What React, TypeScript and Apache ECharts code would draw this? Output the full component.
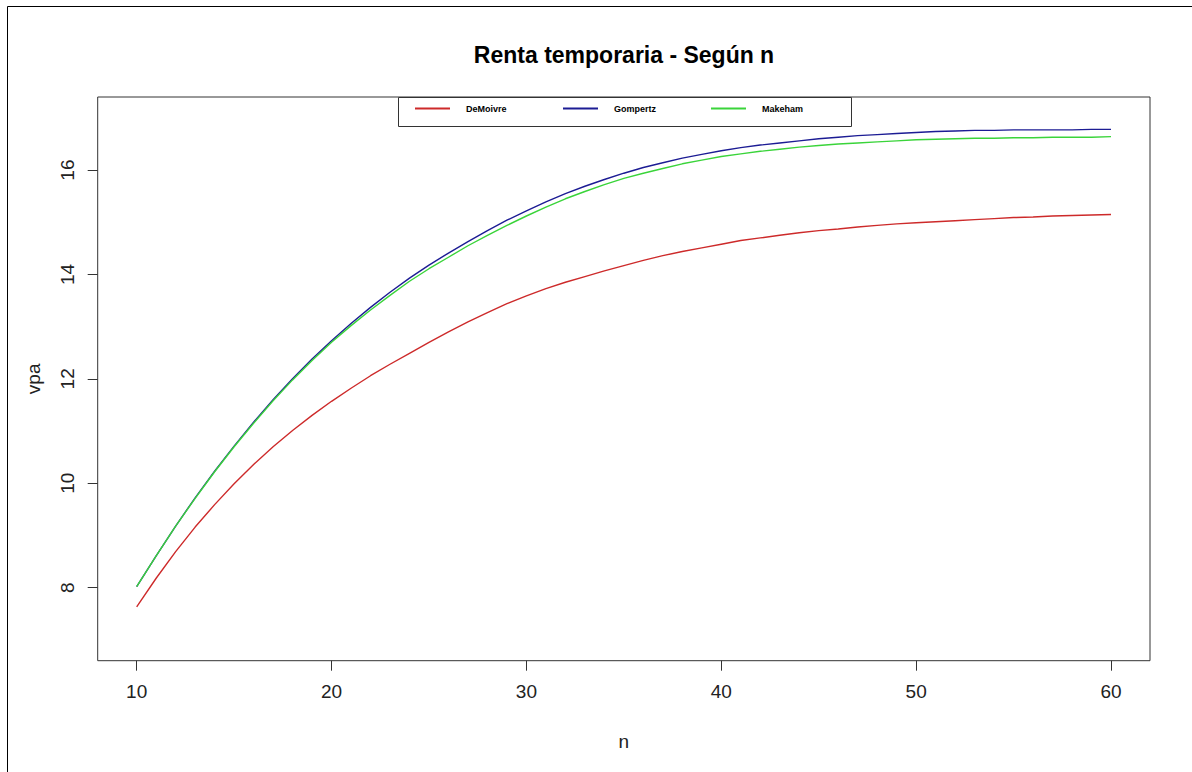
import React, { useEffect, useRef } from "react";
import * as echarts from "echarts";

const nValues = [
  10, 11, 12, 13, 14, 15, 16, 17, 18, 19, 20, 21, 22, 23, 24, 25, 26, 27, 28, 29, 30,
  31, 32, 33, 34, 35, 36, 37, 38, 39, 40, 41, 42, 43, 44, 45, 46, 47, 48, 49, 50,
  51, 52, 53, 54, 55, 56, 57, 58, 59, 60,
];

const deMoivre = [
  7.63, 8.18, 8.69, 9.16, 9.59, 9.99, 10.36, 10.7, 11.01, 11.3, 11.57, 11.82, 12.06,
  12.28, 12.49, 12.7, 12.9, 13.09, 13.27, 13.44, 13.59, 13.73, 13.85, 13.96, 14.07,
  14.17, 14.27, 14.36, 14.44, 14.51, 14.58, 14.65, 14.7, 14.75, 14.8, 14.84, 14.87,
  14.91, 14.94, 14.97, 14.99, 15.01, 15.03, 15.05, 15.07, 15.09, 15.1, 15.12, 15.13,
  15.14, 15.15,
];

const gompertz = [
  8.02, 8.61, 9.18, 9.72, 10.23, 10.71, 11.17, 11.6, 12.0, 12.38, 12.73, 13.06, 13.37,
  13.66, 13.93, 14.18, 14.41, 14.63, 14.84, 15.04, 15.22, 15.39, 15.55, 15.69, 15.82,
  15.94, 16.05, 16.14, 16.23, 16.3, 16.37, 16.43, 16.48, 16.52, 16.56, 16.6, 16.63,
  16.66, 16.68, 16.7, 16.72, 16.74, 16.75, 16.76, 16.76, 16.77, 16.77, 16.77, 16.77,
  16.78, 16.78,
];

const makeham = [
  8.02, 8.61, 9.18, 9.71, 10.22, 10.7, 11.15, 11.58, 11.98, 12.35, 12.7, 13.02, 13.32,
  13.6, 13.87, 14.11, 14.33, 14.55, 14.75, 14.94, 15.12, 15.29, 15.45, 15.59, 15.72,
  15.84, 15.94, 16.03, 16.12, 16.19, 16.26, 16.31, 16.36, 16.4, 16.44, 16.47, 16.5,
  16.52, 16.54, 16.56, 16.58, 16.59, 16.6, 16.61, 16.61, 16.62, 16.62, 16.63, 16.63,
  16.63, 16.64,
];

const seriesNames = ["DeMoivre", "Gompertz", "Makeham"];
const seriesColors = ["#cd2a2a", "#1c1c94", "#3ad43a"];
const xTicks = [10, 20, 30, 40, 50, 60];
const yTicks = [8, 10, 12, 14, 16];

const FONT = "'Liberation Sans', Arial, Helvetica, sans-serif";

export default function App() {
  const ref = useRef<HTMLDivElement>(null);

  useEffect(() => {
    if (!ref.current) return;
    const chart = echarts.init(ref.current, null, { renderer: "svg" });
    const allData = [deMoivre, gompertz, makeham];
    const series = allData.map((vals, i) => ({
      name: seriesNames[i],
      type: "line",
      data: nValues.map((n, j) => [n, vals[j]]),
      showSymbol: false,
      symbol: "none",
      lineStyle: { color: seriesColors[i], width: 1.4 },
      itemStyle: { color: seriesColors[i] },
      z: 3 + i,
    }));

    const legendLefts = [415, 563, 711];
    const legends = seriesNames.map((name, i) => ({
      data: [name],
      left: legendLefts[i],
      top: 104,
      padding: 0,
      icon: "rect",
      itemWidth: 35,
      itemHeight: 2,
      z: 20,
      selectedMode: false,
      textStyle: {
        fontFamily: FONT,
        fontSize: 9,
        fontWeight: "bold",
        color: "#000",
        padding: [0, 0, 0, 11],
      },
    }));

    chart.setOption({
      animation: false,
      backgroundColor: "#ffffff",
      title: {
        text: "Renta temporaria - Según n",
        left: 624,
        top: 43,
        padding: 0,
        textAlign: "center",
        textStyle: { fontFamily: FONT, fontSize: 23, fontWeight: "bold", color: "#000" },
      },
      legend: legends,
      grid: {
        left: 97.7,
        right: 42,
        top: 97,
        bottom: 111.3,
        show: true,
        borderColor: "#333",
        borderWidth: 1,
        backgroundColor: "transparent",
        containLabel: false,
      },
      xAxis: {
        type: "value",
        min: 8,
        max: 62,
        name: "n",
        nameLocation: "middle",
        nameGap: 71,
        nameTextStyle: { fontFamily: FONT, fontSize: 19, color: "#222" },
        axisLine: { show: false },
        splitLine: { show: false },
        axisTick: { show: true, length: 10, customValues: xTicks, lineStyle: { color: "#333" } },
        axisLabel: {
          customValues: xTicks,
          margin: 21,
          fontFamily: FONT,
          fontSize: 19,
          color: "#222",
        },
      },
      yAxis: {
        type: "value",
        min: 6.6,
        max: 17.4,
        name: "vpa",
        nameLocation: "middle",
        nameGap: 55,
        nameTextStyle: { fontFamily: FONT, fontSize: 19, color: "#222" },
        axisLine: { show: false },
        splitLine: { show: false },
        axisTick: { show: true, length: 10, customValues: yTicks, lineStyle: { color: "#333" } },
        axisLabel: {
          customValues: yTicks,
          rotate: 90,
          margin: 21,
          fontFamily: FONT,
          fontSize: 19,
          color: "#222",
        },
      },
      graphic: [
        {
          type: "rect",
          shape: { x: 398.5, y: 97.5, width: 453, height: 29 },
          style: { fill: "#fff", stroke: "#333", lineWidth: 1 },
          z: 1,
          silent: true,
        },
        {
          type: "line",
          shape: { x1: 7.5, y1: 6.5, x2: 1192, y2: 6.5 },
          style: { stroke: "#000", lineWidth: 1 },
          silent: true,
        },
        {
          type: "line",
          shape: { x1: 7.5, y1: 6.5, x2: 7.5, y2: 772 },
          style: { stroke: "#000", lineWidth: 1 },
          silent: true,
        },
      ],
      series,
    });

    return () => chart.dispose();
  }, []);

  return (
    <div
      ref={ref}
      style={{ position: "fixed", left: 0, top: 0, width: 1192, height: 772, background: "#fff" }}
    />
  );
}
